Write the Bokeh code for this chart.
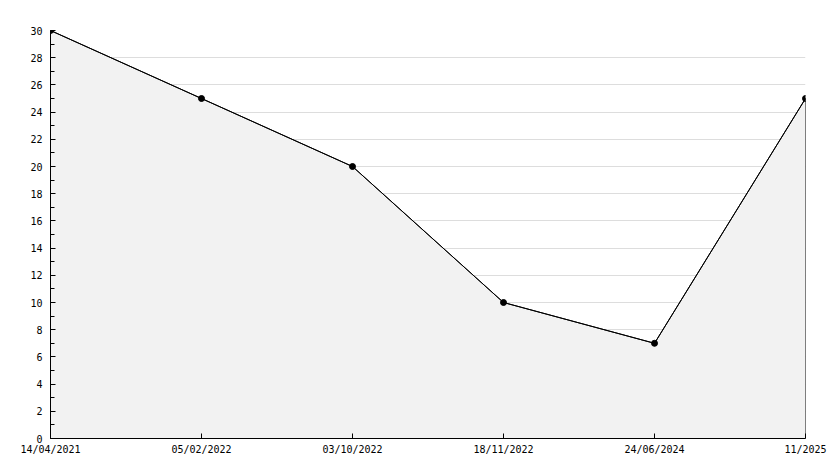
from bokeh.plotting import figure
from bokeh.models import Range1d, FixedTicker
from bokeh.embed import file_html
from bokeh.resources import INLINE

dates = ["14/04/2021", "05/02/2022", "03/10/2022", "18/11/2022", "24/06/2024", "11/2025"]
values = [30, 25, 20, 10, 7, 25]
y_ticks = list(range(0, 31, 2))
y_minor = list(range(0, 31, 1))

xs = list(range(len(dates)))

p = figure(width=834, height=468, output_backend="svg", toolbar_location=None,
           x_range=Range1d(0, len(dates) - 1), y_range=Range1d(0, 30),
           min_border_left=50, min_border_right=29, min_border_top=30, min_border_bottom=30)
p.outline_line_color = None
p.background_fill_color = "white"
p.border_fill_color = "white"

# area
px = xs + [xs[-1], xs[0]]
py = values + [0, 0]
p.patch(px, py, fill_color="#f2f2f2", line_color="black", line_width=1)
p.line(xs, values, line_color="black", line_width=1)
p.scatter(xs, values, marker="circle", size=6, fill_color="black", line_color="black")

font = "DejaVu Sans Mono"
# x axis
p.xaxis.ticker = FixedTicker(ticks=xs)
p.xaxis.major_label_overrides = {i: d for i, d in enumerate(dates)}
p.xaxis.major_tick_in = 5
p.xaxis.major_tick_out = 0
p.xaxis.minor_tick_in = 0
p.xaxis.minor_tick_out = 0
p.xaxis.major_label_standoff = 5
p.xaxis.axis_line_color = "black"
p.xaxis.major_tick_line_color = "black"
p.xaxis.major_label_text_font = font
p.xaxis.major_label_text_font_size = "10px"
p.xaxis.major_label_text_color = "black"

# y axis
p.yaxis.ticker = FixedTicker(ticks=y_ticks, minor_ticks=y_minor)
p.yaxis.major_tick_in = 5
p.yaxis.major_tick_out = 0
p.yaxis.minor_tick_in = 4
p.yaxis.minor_tick_out = 0
p.yaxis.major_label_standoff = 8
p.yaxis.axis_line_color = "black"
p.yaxis.major_tick_line_color = "black"
p.yaxis.minor_tick_line_color = "black"
p.yaxis.major_label_text_font = font
p.yaxis.major_label_text_font_size = "10px"
p.yaxis.major_label_text_color = "black"

p.xgrid.grid_line_color = None
p.ygrid.grid_line_color = "#dddddd"
p.ygrid.ticker = FixedTicker(ticks=y_ticks)

open("out.html", "w").write(file_html(p, INLINE))
